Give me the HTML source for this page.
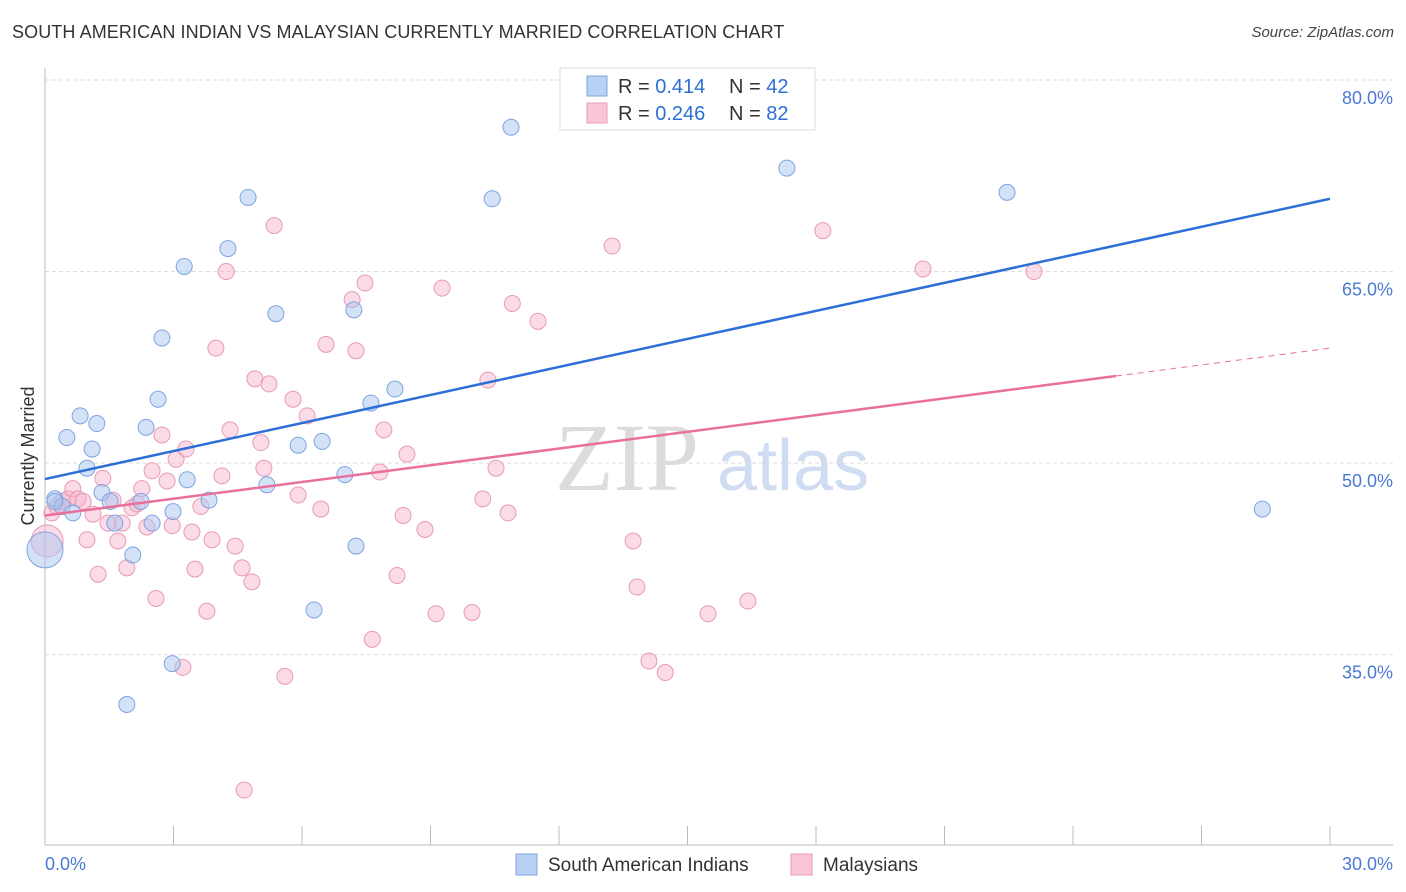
<!DOCTYPE html>
<html><head><meta charset="utf-8">
<style>
body{margin:0;background:#fff;font-family:"Liberation Sans",sans-serif;}
#wrap{position:relative;width:1406px;height:892px;overflow:hidden;}
.title{position:absolute;left:12px;top:22px;font-size:18px;color:#333;letter-spacing:0.1px;}
.source{position:absolute;right:12px;top:24px;font-size:15px;color:#444;font-style:italic;}
</style></head><body>
<div id="wrap">
<div class="title">SOUTH AMERICAN INDIAN VS MALAYSIAN CURRENTLY MARRIED CORRELATION CHART</div>
<div class="source">Source: ZipAtlas.com</div>
<svg id="chart" width="1406" height="892" style="position:absolute;left:0;top:0"></svg>
</div>
<script>
const yTicks=[80,65,50,35];
const yTickLabels=["80.0%","65.0%","50.0%","35.0%"];
const xTickLabels=["0.0%","30.0%"];
const blueX=[0.23,0.40,0.65,0.51,0.82,0.98,1.10,1.21,1.33,1.52,1.63,1.91,2.05,2.24,2.36,2.50,2.64,2.73,2.97,2.99,3.25,3.32,3.83,4.27,4.74,5.18,5.39,5.91,6.28,6.47,7.00,7.21,7.26,7.61,8.17,10.44,10.88,17.32,22.46,28.42,0.0,0.23];
const blueY=[47.2,46.6,46.1,52.0,53.7,49.6,51.1,53.1,47.7,47.0,45.3,31.1,42.8,47.0,52.8,45.3,55.0,59.8,34.3,46.2,65.4,48.7,47.1,66.8,70.8,48.3,61.7,51.4,38.5,51.7,49.1,62.0,43.5,54.7,55.8,70.7,76.3,73.1,71.2,46.4,43.2,47.0];
const blueSize=[8,8,8,8,8,8,8,8,8,8,8,8,8,8,8,8,8,8,8,8,8,8,8,8,8,8,8,8,8,8,8,8,8,8,8,8,8,8,8,8,18,8];
const pinkX=[0.05,0.16,0.28,0.40,0.54,0.65,0.77,0.89,0.98,1.12,1.24,1.35,1.47,1.59,1.70,1.80,1.91,2.03,2.15,2.26,2.38,2.50,2.59,2.73,2.85,2.97,3.06,3.22,3.29,3.43,3.50,3.64,3.78,3.90,3.99,4.13,4.23,4.32,4.44,4.60,4.83,4.90,5.04,5.11,5.23,5.35,5.60,5.79,5.91,6.12,6.44,6.56,7.17,7.26,7.47,7.64,7.82,7.91,8.22,8.36,8.45,8.87,9.13,9.27,9.97,10.22,10.34,10.53,10.81,10.91,11.51,13.24,13.73,13.82,14.10,14.48,15.48,16.41,18.16,20.50,23.09,4.65];
const pinkY=[43.9,46.1,46.6,47.0,47.2,48.0,47.2,47.0,44.0,46.0,41.3,48.8,45.3,47.1,43.9,45.3,41.8,46.5,46.8,48.0,45.0,49.4,39.4,52.2,48.6,45.1,50.3,34.0,51.1,44.6,41.7,46.6,38.4,44.0,59.0,49.0,65.0,52.6,43.5,41.8,40.7,56.6,51.6,49.6,56.2,68.6,33.3,55.0,47.5,53.7,46.4,59.3,62.8,58.8,64.1,36.2,49.3,52.6,41.2,45.9,50.7,44.8,38.2,63.7,38.3,47.2,56.5,49.6,46.1,62.5,61.1,67.0,43.9,40.3,34.5,33.6,38.2,39.2,68.2,65.2,65.0,24.4];
const pinkSize=[16].concat(new Array(81).fill(8));
const blueLine=[48.75,70.7];
const pinkLine=[45.9,59.0];
const pinkSolidEnd=25;

const X0=45,X1=1330,Y80=80,PXP=12.77;
const xs=v=>X0+(v/30)*(X1-X0);
const ys=v=>Y80+(80-v)*PXP;
const svg=document.getElementById('chart');
const NS='http://www.w3.org/2000/svg';
function mk(t,a){const e=document.createElementNS(NS,t);for(const k in a)e.setAttribute(k,a[k]);svg.appendChild(e);return e;}

let wm=mk('text',{x:555,y:490,'font-size':96,'font-family':'Liberation Serif,serif',fill:'#dcdcdc'});
wm.textContent='ZIP';


let wm2=mk('text',{x:717,y:490,'font-size':72,'font-family':'Liberation Sans,sans-serif',fill:'#cfdcf2'});
wm2.textContent='atlas';



yTicks.forEach((t,i)=>{
  const g=mk('line',{x1:X0,x2:1393,y1:ys(t),y2:ys(t),stroke:'#ddd','stroke-dasharray':'4,3','stroke-width':1});
  
  
  const l=mk('text',{x:1393,y:ys(t)+24,'text-anchor':'end','font-size':18,fill:'#4a7ad4'});
  l.textContent=yTickLabels[i];
  
  
});
let ax=mk('line',{x1:X0,x2:X0,y1:68,y2:845,stroke:'#bbb'});


let bx=mk('line',{x1:X0,x2:1393,y1:845,y2:845,stroke:'#bbb'});


for(let i=0;i<=10;i++){
  const tk=mk('line',{x1:xs(i*3),x2:xs(i*3),y1:826,y2:845,stroke:'#bbb'});
  
  
}
[[0,45,'start'],[30,1393,'end']].forEach((d,i)=>{
  const t=mk('text',{x:d[1],y:870,'text-anchor':d[2],'font-size':18,fill:'#4a7ad4'});
  t.textContent=xTickLabels[i];
  
  
});
let yt=mk('text',{x:34,y:456,'text-anchor':'middle','font-size':18,fill:'#333',transform:'rotate(-90 34 456)'});
yt.textContent='Currently Married';



pinkX.forEach((x,i)=>{
  const c=mk('circle',{cx:xs(x),cy:ys(pinkY[i]),r:pinkSize[i],fill:'rgba(246,176,202,0.45)',stroke:'#e89ab6','stroke-width':1});
  
  
});
blueX.forEach((x,i)=>{
  const c=mk('circle',{cx:xs(x),cy:ys(blueY[i]),r:blueSize[i],fill:'rgba(170,198,240,0.5)',stroke:'#7ea4e0','stroke-width':1});
  
  
});
let bl=mk('line',{x1:xs(0),y1:ys(blueLine[0]),x2:xs(30),y2:ys(blueLine[1]),stroke:'#2d6fd6','stroke-width':2.5});


const pAt=x=>pinkLine[0]+(pinkLine[1]-pinkLine[0])*x/30;
let pl=mk('line',{x1:xs(0),y1:ys(pinkLine[0]),x2:xs(pinkSolidEnd),y2:ys(pAt(pinkSolidEnd)),stroke:'#e8709a','stroke-width':2.5});


let pd=mk('line',{x1:xs(pinkSolidEnd),y1:ys(pAt(pinkSolidEnd)),x2:xs(30),y2:ys(pinkLine[1]),stroke:'#e8709a','stroke-width':1,'stroke-dasharray':'6,5'});



let lb=mk('rect',{x:560,y:68,width:255,height:62,fill:'#fff',stroke:'#ddd'});


[['#b8d0f4','#7ea4e0','0.414','42',86],['#f8c6d6','#e89ab6','0.246','82',113]].forEach((d,i)=>{
  const s=mk('rect',{x:587,y:d[4]-10,width:20,height:20,fill:d[0],stroke:d[1]});
  
  
  const t=mk('text',{x:618,y:d[4]+7,'font-size':20,fill:'#333'});
  t.innerHTML='R = <tspan fill="#2d6fd6">'+d[2]+'</tspan><tspan x="729">N = </tspan><tspan fill="#2d6fd6">'+d[3]+'</tspan>';
  
  
});
[['#b8d0f4','#7ea4e0','South American Indians',516],['#f8c6d6','#e89ab6','Malaysians',791]].forEach(d=>{
  const s=mk('rect',{x:d[3],y:854,width:21,height:21,fill:d[0],stroke:d[1]});
  
  
  const t=mk('text',{x:d[3]+32,y:871,'font-size':19,fill:'#333'});
  t.textContent=d[2];
  
  
});
</script>
</body></html>
